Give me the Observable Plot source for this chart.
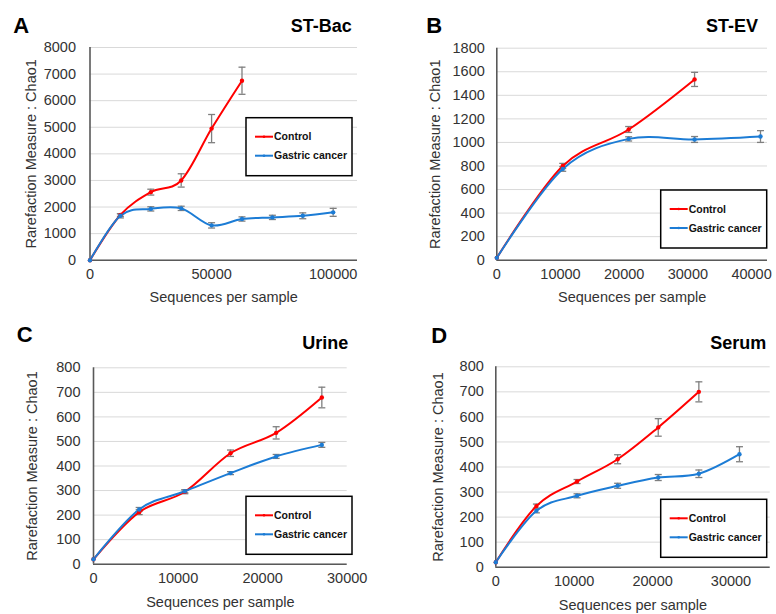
<!DOCTYPE html>
<html><head><meta charset="utf-8">
<script src="https://cdn.jsdelivr.net/npm/d3@7"></script>
<script src="https://cdn.jsdelivr.net/npm/@observablehq/plot@0.6"></script>
<style>
body{margin:0;background:#fff;font-family:Arial,"Liberation Sans",sans-serif;}
#root{position:relative;width:776px;height:614px;overflow:hidden;background:#fff}
.panel{position:absolute;width:388px;height:307px}
.panel svg.ov{position:absolute;left:0;top:0;pointer-events:none;overflow:visible}
.panel > svg:first-child, .panel figure{position:absolute;left:0;top:0;margin:0}
</style>
</head><body>
<div id="root"></div>
<script>
// ---------------- DATA ----------------
const seriesNames = ["Control", "Gastric cancer"];
const xTitle = "Sequences per sample";
const yTitle = "Rarefaction Measure : Chao1";

// A: ST-Bac
const aX = [0, 12500, 25000, 37500, 50000, 62500, 75000, 87500, 100000];
const aControl = [0, 1700, 2560, 3000, 4950, 6750];
const aControlErr = [0, 50, 110, 250, 530, 510];
const aGastric = [0, 1670, 1930, 1950, 1310, 1550, 1610, 1670, 1800];
const aGastricErr = [0, 80, 80, 80, 100, 80, 80, 110, 150];
const aXTicks = [0, 50000, 100000];
const aYTicks = [0, 1000, 2000, 3000, 4000, 5000, 6000, 7000, 8000];

// B: ST-EV
const bX = [0, 10350, 20700, 31050, 41400];
const bControl = [20, 800, 1110, 1535];
const bControlErr = [0, 22, 25, 60];
const bGastric = [20, 775, 1030, 1025, 1050];
const bGastricErr = [0, 20, 18, 25, 50];
const bXTicks = [0, 10000, 20000, 30000, 40000];
const bYTicks = [0, 200, 400, 600, 800, 1000, 1200, 1400, 1600, 1800];

// C: Urine
const cX = [0, 5400, 10800, 16200, 21600, 27000];
const cControl = [20, 212, 295, 452, 535, 679];
const cControlErr = [0, 10, 8, 13, 25, 42];
const cGastric = [20, 223, 297, 371, 439, 486];
const cGastricErr = [0, 8, 6, 6, 8, 10];
const cXTicks = [0, 10000, 20000, 30000];
const cYTicks = [0, 100, 200, 300, 400, 500, 600, 700, 800];

// D: Serum
const dX = [0, 5180, 10360, 15540, 20720, 25900, 31080];
const dControl = [20, 244, 342, 431, 558, 700];
const dControlErr = [0, 8, 8, 18, 35, 40];
const dGastric = [20, 225, 285, 325, 358, 373, 451];
const dGastricErr = [0, 8, 8, 10, 12, 15, 30];
const dXTicks = [0, 10000, 20000, 30000];
const dYTicks = [0, 100, 200, 300, 400, 500, 600, 700, 800];

// ---------------- LAYOUT ----------------
const RED = "#ff0000", BLUE = "#1c7cd5";
const FONT = "Arial, 'Liberation Sans', sans-serif";

const panels = [
  {left:0, top:0, letter:"A", title:"ST-Bac", xs:aX, c:aControl, ce:aControlErr, g:aGastric, ge:aGastricErr,
   xTicks:aXTicks, yTicks:aYTicks, xDomain:[0,110000],
   ml:89.5, mr:31, mt:47, mb:47.3, yPad:14, ytDx:-59, xtDy:37.5,
   letterPos:[13.3,33], titlePos:[351.7,31.7], legendPos:[246,117.7]},
  {left:388, top:0, letter:"B", title:"ST-EV", xs:bX, c:bControl, ce:bControlErr, g:bGastric, ge:bGastricErr,
   xTicks:bXTicks, yTicks:bYTicks, xDomain:[0,42500],
   ml:108.3, mr:9, mt:47.7, mb:47.3, yPad:12, ytDx:-61.6, xtDy:37.5,
   letterPos:[38.3,33], titlePos:[370,31.7], legendPos:[272.7,190]},
  {left:0, top:307, letter:"C", title:"Urine", xs:cX, c:cControl, ce:cControlErr, g:cGastric, ge:cGastricErr,
   xTicks:cXTicks, yTicks:cYTicks, xDomain:[0,30000],
   ml:93, mr:41.3, mt:60.3, mb:50.3, yPad:13, ytDx:-61.3, xtDy:38.3,
   letterPos:[16.7,35], titlePos:[348.3,41.7], legendPos:[246,189.3]},
  {left:388, top:307, letter:"D", title:"Serum", xs:dX, c:dControl, ce:dControlErr, g:dGastric, ge:dGastricErr,
   xTicks:dXTicks, yTicks:dYTicks, xDomain:[0,35000],
   ml:107.3, mr:6.3, mt:59.3, mb:47.3, yPad:12, ytDx:-57.3, xtDy:38.6,
   letterPos:[43.3,35.5], titlePos:[378.3,41.7], legendPos:[272.7,192.3]}
];

const capSymbol = {draw(ctx){ ctx.moveTo(-3.5,0); ctx.lineTo(3.5,0); }};

function rowsOf(p){
  const rows = [];
  p.c.forEach((v,i)=>rows.push({series:"Control", x:p.xs[i], y:v, e:p.ce[i]}));
  p.g.forEach((v,i)=>rows.push({series:"Gastric cancer", x:p.xs[i], y:v, e:p.ge[i]}));
  return rows;
}

const root = document.getElementById("root");
for (const p of panels) {
  const div = document.createElement("div");
  div.className = "panel";
  div.style.left = p.left + "px";
  div.style.top = p.top + "px";
  root.appendChild(div);

  const rows = rowsOf(p);
  const errs = rows.filter(d => d.e > 0);
  const chart = Plot.plot({
    width: 388, height: 307,
    marginLeft: p.ml, marginRight: p.mr, marginTop: p.mt, marginBottom: p.mb,
    style: {fontFamily: FONT, fontSize: "14.5px", color: "#333", background: "transparent", overflow: "visible"},
    x: {domain: p.xDomain},
    y: {domain: [p.yTicks[0], p.yTicks[p.yTicks.length-1]]},
    color: {domain: seriesNames, range: [RED, BLUE]},
    marks: [
      Plot.gridY(p.yTicks, {stroke: "#d9d9d9", strokeOpacity: 1, strokeWidth: 1}),
      Plot.axisY(p.yTicks, {tickSize: 0, tickPadding: p.yPad, label: null, tickFormat: d => String(d), fill: "#333"}),
      Plot.axisX(p.xTicks, {tickSize: 0, tickPadding: 9, label: null, tickFormat: d => String(d), fill: "#333"}),
      Plot.ruleY([0], {stroke: "#595959", strokeWidth: 1.6}),
      Plot.ruleX([0], {stroke: "#595959", strokeWidth: 1.6}),
      Plot.ruleX(errs, {x: "x", y1: d => d.y - d.e, y2: d => d.y + d.e, stroke: "#7f7f7f", strokeWidth: 1.3}),
      Plot.dot(errs, {x: "x", y: d => d.y - d.e, symbol: capSymbol, fill: "none", stroke: "#7f7f7f", strokeWidth: 1.3}),
      Plot.dot(errs, {x: "x", y: d => d.y + d.e, symbol: capSymbol, fill: "none", stroke: "#7f7f7f", strokeWidth: 1.3}),
      Plot.line(rows, {x: "x", y: "y", z: "series", stroke: "series", curve: "cardinal", strokeWidth: 2}),
      Plot.dot(rows, {x: "x", y: "y", fill: "series", r: 2.2}),
      Plot.text([xTitle], {frameAnchor: "bottom", dy: p.xtDy, lineAnchor: "middle", textAnchor: "middle", fontSize: 14.5, fill: "#333"}),
      Plot.text([yTitle], {frameAnchor: "left", dx: p.ytDx, rotate: -90, lineAnchor: "middle", textAnchor: "middle", fontSize: 14.5, fill: "#333"})
    ]
  });
  div.appendChild(chart);

  // overlay: panel letter, title, legend
  const ov = d3.select(div).append("svg").attr("class","ov").attr("width",388).attr("height",307)
    .style("font-family", FONT);
  ov.append("text").attr("x", p.letterPos[0]).attr("y", p.letterPos[1])
    .attr("font-size", 22).attr("font-weight", "bold").attr("fill","#000").text(p.letter);
  ov.append("text").attr("x", p.titlePos[0]).attr("y", p.titlePos[1]).attr("text-anchor","end")
    .attr("font-size", 18).attr("font-weight", "bold").attr("fill","#000").text(p.title);
  const lg = ov.append("g").attr("transform", `translate(${p.legendPos[0]},${p.legendPos[1]})`);
  lg.append("rect").attr("width",106).attr("height",58).attr("fill","#fff").attr("stroke","#000").attr("stroke-width",1.5);
  seriesNames.forEach((s,i)=>{
    const yy = 19 + i*19;
    const col = i === 0 ? RED : BLUE;
    lg.append("line").attr("x1",9).attr("x2",27).attr("y1",yy).attr("y2",yy).attr("stroke",col).attr("stroke-width",2);
    lg.append("circle").attr("cx",18).attr("cy",yy).attr("r",1.3).attr("fill",col);
    lg.append("text").attr("x",28).attr("y",yy).attr("dy","0.36em").attr("font-size",10.5).attr("font-weight","bold").attr("fill","#111").text(s);
  });
}
</script>
</body></html>
